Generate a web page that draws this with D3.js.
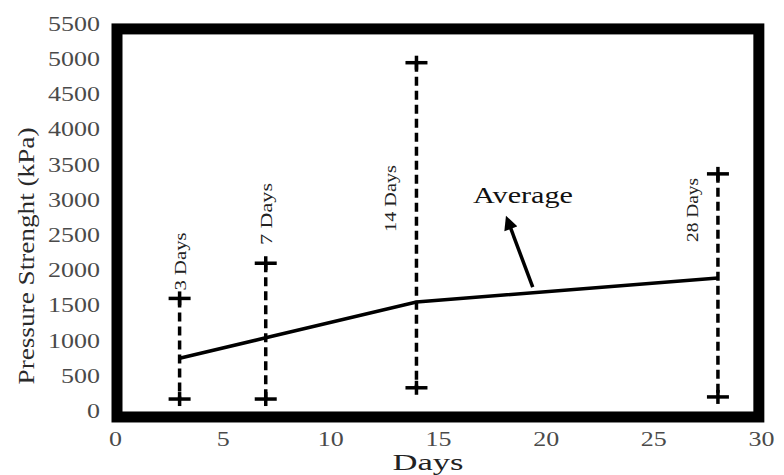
<!DOCTYPE html>
<html>
<head>
<meta charset="utf-8">
<script src="https://cdn.jsdelivr.net/npm/d3@7"></script>
<style>
  body { margin:0; background:#fff; }
  text { font-family: "Liberation Serif", "Times New Roman", serif; }
</style>
</head>
<body>
<div id="chart"></div>
<script>
var width = 784, height = 475;

// data
var days     = [3, 7, 14, 28];
var average  = [750, 1040, 1550, 1890];
var maxVals  = [1600, 2100, 4950, 3370];
var minVals  = [170, 170, 330, 200];
var dayLabels = ["3 Days", "7 Days", "14 Days", "28 Days"];
var xTicks = [0, 5, 10, 15, 20, 25, 30];
var yTicks = [0, 500, 1000, 1500, 2000, 2500, 3000, 3500, 4000, 4500, 5000, 5500];
var arrowFrom = [19.4, 1760];
var arrowTo   = [18.2, 2740];

var svg = d3.select("#chart").append("svg")
  .attr("width", width)
  .attr("height", height);

var x = d3.scaleLinear().domain([0, 30]).range([115, 761]);
var y = d3.scaleLinear().domain([0, 5500]).range([411, 24]);

// frame
svg.append("rect")
  .attr("x", x(0) + 2)
  .attr("y", y(5430))
  .attr("width", x(29.9) - x(0) - 2)
  .attr("height", y(-85) - y(5430))
  .attr("fill", "none")
  .attr("stroke", "#000")
  .attr("stroke-width", 11);

// axes (labels only, the frame does the lines)
var xAxis = svg.append("g")
  .attr("transform", "translate(0," + y(0) + ")")
  .call(d3.axisBottom(x).tickValues(xTicks).tickSize(0).tickPadding(21));
var yAxis = svg.append("g")
  .attr("transform", "translate(" + x(0) + ",0)")
  .call(d3.axisLeft(y).tickValues(yTicks).tickSize(0).tickPadding(15).tickFormat(d3.format("d")));

[xAxis, yAxis].forEach(function(ax){
  ax.select(".domain").remove();
  ax.selectAll("text")
    .attr("font-family", "Liberation Serif, serif")
    .attr("font-size", "20px")
    .attr("fill", "#4a4a4a")
    .attr("textLength", function(d){ return String(d).length * 13; })
    .attr("lengthAdjust", "spacingAndGlyphs");
});

// axis titles
svg.append("text")
  .attr("x", 428).attr("y", 470)
  .attr("text-anchor", "middle")
  .attr("font-size", "23px")
  .attr("fill", "#222")
  .attr("textLength", 71).attr("lengthAdjust", "spacingAndGlyphs")
  .text("Days");

svg.append("text")
  .attr("transform", "translate(34,256) rotate(-90)")
  .attr("text-anchor", "middle")
  .attr("font-size", "23px")
  .attr("fill", "#2a2a2a")
  .attr("textLength", 257).attr("lengthAdjust", "spacingAndGlyphs")
  .text("Pressure Strenght (kPa)");

// range bars
var bars = svg.append("g").selectAll("g")
  .data(days)
  .enter()
  .append("g");

bars.append("line")
  .attr("x1", function(d){ return x(d); })
  .attr("x2", function(d){ return x(d); })
  .attr("y1", function(d, i){ return y(maxVals[i]); })
  .attr("y2", function(d, i){ return y(minVals[i]); })
  .attr("stroke", "#000")
  .attr("stroke-width", 3.5)
  .attr("stroke-dasharray", "9,5");

function cross(sel, vals){
  sel.append("line")
    .attr("x1", function(d){ return x(d) - 11; })
    .attr("x2", function(d){ return x(d) + 11; })
    .attr("y1", function(d, i){ return y(vals[i]); })
    .attr("y2", function(d, i){ return y(vals[i]); })
    .attr("stroke", "#000").attr("stroke-width", 3.5);
  sel.append("line")
    .attr("x1", function(d){ return x(d); })
    .attr("x2", function(d){ return x(d); })
    .attr("y1", function(d, i){ return y(vals[i]) - 7; })
    .attr("y2", function(d, i){ return y(vals[i]) + 7; })
    .attr("stroke", "#000").attr("stroke-width", 3.5);
}
cross(bars, maxVals);
cross(bars, minVals);

// day labels: first two sit on the bar above the max, the others left of it
var labelLen = [58, 62, 67, 64];
bars.append("text")
  .attr("transform", function(d, i){
    var lx = i < 2 ? x(d) + 6 : x(d) - 20;
    var ly = i == 0 ? y(maxVals[i]) - 8 : (i == 1 ? 245 : (i == 2 ? 232 : 242));
    return "translate(" + lx + "," + ly + ") rotate(-90)";
  })
  .attr("font-size", "17px")
  .attr("fill", "#222")
  .attr("textLength", function(d, i){ return labelLen[i]; })
  .attr("lengthAdjust", "spacingAndGlyphs")
  .text(function(d, i){ return dayLabels[i]; });

// average line
var line = d3.line()
  .x(function(d){ return x(d); })
  .y(function(d, i){ return y(average[i]); });

svg.append("path")
  .datum(days)
  .attr("d", line)
  .attr("fill", "none")
  .attr("stroke", "#000")
  .attr("stroke-width", 3.5);

// arrow annotation
svg.append("defs").append("marker")
  .attr("id", "head")
  .attr("viewBox", "0 0 10 10")
  .attr("refX", 2).attr("refY", 5)
  .attr("markerWidth", 4.5).attr("markerHeight", 4)
  .attr("orient", "auto")
  .append("path")
  .attr("d", "M0,0L10,5L0,10Z")
  .attr("fill", "#000");

svg.append("line")
  .attr("x1", x(arrowFrom[0])).attr("y1", y(arrowFrom[1]))
  .attr("x2", x(arrowTo[0]) + 3).attr("y2", y(arrowTo[1]) + 8)
  .attr("stroke", "#000")
  .attr("stroke-width", 3.5)
  .attr("marker-end", "url(#head)");

svg.append("text")
  .attr("x", 473).attr("y", 203)
  .attr("font-size", "24px")
  .attr("fill", "#111")
  .attr("textLength", 100).attr("lengthAdjust", "spacingAndGlyphs")
  .text("Average");
</script>
</body>
</html>
